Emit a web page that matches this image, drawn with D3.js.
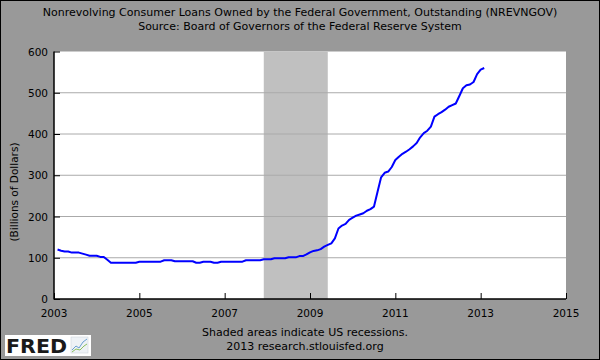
<!DOCTYPE html>
<html><head><meta charset="utf-8">
<script src="https://cdn.jsdelivr.net/npm/d3@7"></script>
<style>html,body{margin:0;padding:0;background:#999}svg{display:block}</style>
</head><body>
<script>
// Monthly values (billions of dollars), series starts Feb 2003
const startYear = 2003, startMonth = 2;
const v2003 = [120,117,115,115,112.5,112.5,112.5,110,107.5,105,105];
const v2004 = [105,102,102,95,88,88,88,88,88,88,88,88];
const v2005 = [90.5,90.5,90.5,90.5,90.5,90.5,90.5,94,94,94,91.5,91.5];
const v2006 = [91.5,91.5,91.5,91.5,88,88,90.5,90.5,90.5,88,88,90.5];
const v2007 = [90.5,90.5,90.5,90.5,90.5,90.5,94,94,94,94,94,96.3];
const v2008 = [96.3,96.3,98.7,98.7,98.7,98.7,101,101,101,104,104,108];
const v2009 = [113,116.5,118,121,127,131,135,147,171,178,182,192];
const v2010 = [197,202,205,208,214,218,224,260,295,306,309,320];
const v2011 = [337,345,352,357,363,370,378,392,402,408,418,442];
const v2012 = [448,453,459,466,470,474,492,511,518,520,526,545];
const v2013 = [556,560];
const recessions = [[2007 + 11/12, 2009 + 5/12]];
const xTicks = [2003,2005,2007,2009,2011,2013,2015];
const yTicks = [0,100,200,300,400,500,600];
const titleLines = ["Nonrevolving Consumer Loans Owned by the Federal Government, Outstanding (NREVNGOV)",
                    "Source: Board of Governors of the Federal Reserve System"];
const footLines = ["Shaded areas indicate US recessions.", "2013 research.stlouisfed.org"];
const yTitle = "(Billions of Dollars)";

const series = [v2003,v2004,v2005,v2006,v2007,v2008,v2009,v2010,v2011,v2012,v2013];
const data = [];
let idx = 0;
series.forEach(arr => arr.forEach(v => {
  const m = startMonth - 1 + idx; idx++;
  data.push({t: startYear + m/12, v});
}));

const W = 600, H = 360;
const L = 54, R = 566, T = 51.5, B = 299;
const font = "DejaVu Sans, Verdana, sans-serif";
const svg = d3.select("body").append("svg").attr("width", W).attr("height", H);
svg.append("rect").attr("x",0.5).attr("y",0.5).attr("width",W-1).attr("height",H-1)
  .attr("fill","#999999").attr("stroke","#000").attr("stroke-width",1);

const x = d3.scaleLinear().domain([2003,2015]).range([L,R]);
const y = d3.scaleLinear().domain([0,600]).range([B,T]);

svg.append("rect").attr("x",L).attr("y",T).attr("width",R-L).attr("height",B-T).attr("fill","#fff");
svg.selectAll("rect.rec").data(recessions).enter().append("rect").attr("class","rec")
  .attr("x",d=>x(d[0])).attr("width",d=>x(d[1])-x(d[0])).attr("y",T).attr("height",B-T).attr("fill","#c0c0c0");

// grid
svg.selectAll("line.grid").data(yTicks.filter(d=>d>0 && d<600)).enter().append("line").attr("class","grid")
  .attr("x1",L).attr("x2",R).attr("y1",d=>y(d)).attr("y2",d=>y(d)).attr("stroke","#aaaaaa").attr("stroke-width",1);

// line
svg.append("path").datum(data).attr("fill","none").attr("stroke","#0000ff").attr("stroke-width",2)
  .attr("stroke-linejoin","round")
  .attr("d", d3.line().x(d=>x(d.t)).y(d=>y(d.v)));

// axes
const yAxis = d3.axisRight(y).tickValues(yTicks).tickSize(6).tickFormat("");
const gy = svg.append("g").attr("transform",`translate(${L},0)`).call(yAxis);
const xAxis = d3.axisTop(x).tickValues(xTicks).tickSize(6).tickFormat("");
const gx = svg.append("g").attr("transform",`translate(0,${B})`).call(xAxis);
[gy,gx].forEach(g=>{ g.select(".domain").remove(); g.selectAll("line").attr("stroke","#000").attr("stroke-width",1); });
svg.append("line").attr("x1",L).attr("x2",L).attr("y1",T).attr("y2",B+0.5).attr("stroke","#000").attr("stroke-width",1.5);
svg.append("line").attr("x1",L).attr("x2",R).attr("y1",B).attr("y2",B).attr("stroke","#000").attr("stroke-width",1.5);

// tick labels
svg.selectAll("text.yl").data(yTicks).enter().append("text").attr("class","yl")
  .attr("x",L-6).attr("y",d=>y(d)+4).attr("text-anchor","end")
  .attr("font-family",font).attr("font-size",10.5).attr("fill","#000").text(d=>d);
svg.selectAll("text.xl").data(xTicks).enter().append("text").attr("class","xl")
  .attr("x",d=>x(d)).attr("y",317).attr("text-anchor","middle")
  .attr("font-family",font).attr("font-size",10.5).attr("fill","#000").text(d=>d);

svg.append("text").attr("transform","translate(18,192) rotate(-90)").attr("text-anchor","middle")
  .attr("font-family",font).attr("font-size",10.5).attr("fill","#000").text(yTitle);

svg.selectAll("text.title").data(titleLines).enter().append("text").attr("class","title")
  .attr("x",300).attr("y",(d,i)=>16+i*14).attr("text-anchor","middle")
  .attr("font-family",font).attr("font-size",11).attr("fill","#000").text(d=>d);
svg.selectAll("text.foot").data(footLines).enter().append("text").attr("class","foot")
  .attr("x",305).attr("y",(d,i)=>336+i*14).attr("text-anchor","middle")
  .attr("font-family",font).attr("font-size",11).attr("fill","#000").text(d=>d);

// FRED logo
const logo = svg.append("g");
logo.append("rect").attr("x",5).attr("y",335).attr("width",86).attr("height",21).attr("fill","#fff");
logo.append("text").attr("x",6).attr("y",353).attr("font-family",font).attr("font-weight","bold")
  .attr("font-size",20).attr("textLength",61).attr("lengthAdjust","spacingAndGlyphs").attr("fill","#1a1a1a").text("FRED");
logo.append("rect").attr("x",71).attr("y",337).attr("width",17).attr("height",16).attr("fill","#eef2f6").attr("stroke","#c8d0d8").attr("stroke-width",0.5);
logo.append("path").attr("d","M72,350 L76,346 L79,348 L83,342 L87,339").attr("fill","none").attr("stroke","#6a9fd0").attr("stroke-width",1);
logo.append("path").attr("d","M72,352 L76,349 L80,350 L84,346 L87,344").attr("fill","none").attr("stroke","#8cc060").attr("stroke-width",1);
</script>
</body></html>
